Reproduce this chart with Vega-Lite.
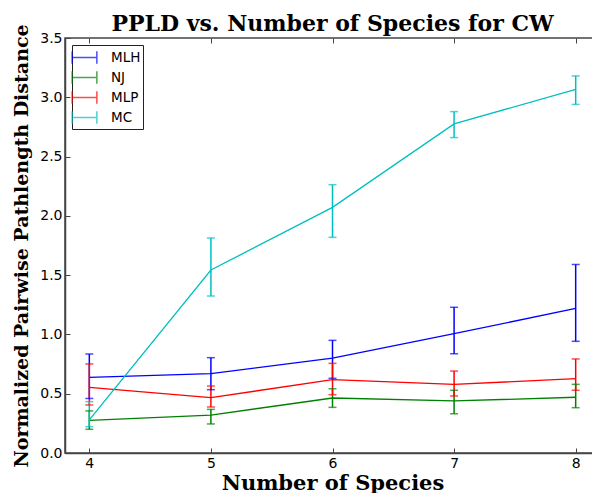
{
  "$schema": "https://vega.github.io/schema/vega-lite/v6.json",
  "width": 535,
  "height": 415,
  "autosize": {"type": "none"},
  "padding": {"left": 65, "top": 38, "right": 0, "bottom": 40},
  "background": "white",
  "title": {
    "text": "PPLD vs. Number of Species for CW",
    "font": "DejaVu Serif",
    "fontSize": 22,
    "fontWeight": "bold",
    "color": "black",
    "anchor": "middle",
    "frame": "group",
    "offset": -12
  },
  "config": {
    "view": {"stroke": "#444", "strokeWidth": 1.5},
    "axis": {
      "grid": false,
      "domainColor": "#444",
      "domainWidth": 1.5,
      "tickColor": "#444",
      "tickWidth": 1,
      "tickSize": -5,
      "labelFont": "DejaVu Sans",
      "labelFontSize": 14,
      "labelColor": "black",
      "titleFont": "DejaVu Serif",
      "titleFontSize": 19,
      "titleFontWeight": "bold",
      "titleColor": "black"
    }
  },
  "resolve": {"axis": {"x": "independent"}},
  "data": {
    "values": [
      {"species": 4, "method": "MLH", "mean": 0.638, "lo": 0.46, "hi": 0.835},
      {"species": 5, "method": "MLH", "mean": 0.669, "lo": 0.534, "hi": 0.804},
      {"species": 6, "method": "MLH", "mean": 0.801, "lo": 0.63, "hi": 0.95},
      {"species": 7, "method": "MLH", "mean": 1.006, "lo": 0.837, "hi": 1.229},
      {"species": 8, "method": "MLH", "mean": 1.22, "lo": 0.942, "hi": 1.59},
      {"species": 4, "method": "NJ", "mean": 0.275, "lo": 0.2, "hi": 0.355},
      {"species": 5, "method": "NJ", "mean": 0.32, "lo": 0.245, "hi": 0.368},
      {"species": 6, "method": "NJ", "mean": 0.464, "lo": 0.385, "hi": 0.542},
      {"species": 7, "method": "NJ", "mean": 0.439, "lo": 0.331, "hi": 0.529},
      {"species": 8, "method": "NJ", "mean": 0.47, "lo": 0.382, "hi": 0.579},
      {"species": 4, "method": "MLP", "mean": 0.553, "lo": 0.405, "hi": 0.751},
      {"species": 5, "method": "MLP", "mean": 0.467, "lo": 0.388, "hi": 0.565},
      {"species": 6, "method": "MLP", "mean": 0.618, "lo": 0.492, "hi": 0.756},
      {"species": 7, "method": "MLP", "mean": 0.579, "lo": 0.481, "hi": 0.691},
      {"species": 8, "method": "MLP", "mean": 0.627, "lo": 0.529, "hi": 0.793},
      {"species": 4, "method": "MC", "mean": 0.28, "lo": 0.222, "hi": 0.433},
      {"species": 5, "method": "MC", "mean": 1.543, "lo": 1.324, "hi": 1.813},
      {"species": 6, "method": "MC", "mean": 2.072, "lo": 1.819, "hi": 2.263},
      {"species": 7, "method": "MC", "mean": 2.775, "lo": 2.66, "hi": 2.879},
      {"species": 8, "method": "MC", "mean": 3.067, "lo": 2.94, "hi": 3.18}
    ]
  },
  "encoding": {
    "color": {
      "field": "method",
      "type": "nominal",
      "scale": {"domain": ["MLH", "NJ", "MLP", "MC"], "range": ["#0000ff", "#008000", "#ff0000", "#00bfbf"]},
      "legend": {
        "title": null,
        "orient": "top-left",
        "offset": 7,
        "padding": 2,
        "fillColor": "white",
        "strokeColor": "#222",
        "symbolType": "M-1.3,-0.65L-1.3,0.65M-1.3,0L1.3,0M1.3,-0.65L1.3,0.65",
        "symbolSize": 361,
        "symbolStrokeWidth": 1.5,
        "symbolFillColor": "transparent",
        "labelFont": "DejaVu Sans",
        "labelFontSize": 13.5,
        "labelColor": "black",
        "labelOffset": 16,
        "rowPadding": -2.5
      }
    }
  },
  "layer": [
    {
      "mark": {"type": "line", "strokeWidth": 1.3},
      "encoding": {
        "x": {
          "field": "species",
          "type": "quantitative",
          "scale": {"domain": [3.8, 8.2], "nice": false, "zero": false},
          "axis": {"values": [4, 5, 6, 7, 8], "title": "Number of Species", "titleFontSize": 21, "labelPadding": 8, "titlePadding": 2}
        },
        "y": {
          "field": "mean",
          "type": "quantitative",
          "scale": {"domain": [0, 3.5], "nice": false},
          "axis": {"values": [0, 0.5, 1, 1.5, 2, 2.5, 3, 3.5], "format": ".1f", "title": "Normalized Pairwise Pathlength Distance", "labelPadding": 8, "titlePadding": 8}
        }
      }
    },
    {
      "mark": {"type": "rule", "strokeWidth": 1.5},
      "encoding": {
        "x": {"field": "species", "type": "quantitative", "axis": null},
        "y": {"field": "lo", "type": "quantitative"},
        "y2": {"field": "hi"}
      }
    },
    {
      "mark": {"type": "tick", "orient": "horizontal", "size": 8, "thickness": 1.5},
      "encoding": {
        "x": {"field": "species", "type": "quantitative", "axis": null},
        "y": {"field": "hi", "type": "quantitative"}
      }
    },
    {
      "mark": {"type": "tick", "orient": "horizontal", "size": 8, "thickness": 1.5},
      "encoding": {
        "x": {"field": "species", "type": "quantitative", "axis": null},
        "y": {"field": "lo", "type": "quantitative"}
      }
    },
    {
      "mark": {"type": "point", "opacity": 0},
      "encoding": {
        "x": {
          "field": "species",
          "type": "quantitative",
          "axis": {"orient": "top", "values": [4, 5, 6, 7, 8], "labels": false, "title": null, "domain": false}
        },
        "y": {"field": "mean", "type": "quantitative"}
      }
    }
  ]
}
